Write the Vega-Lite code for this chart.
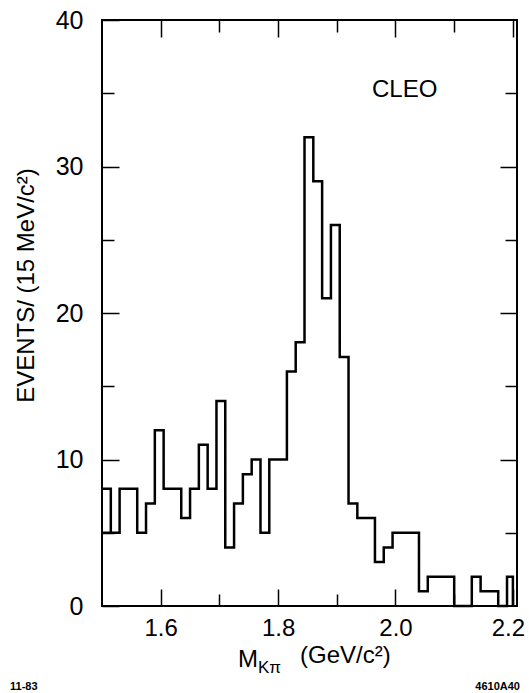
{
  "$schema": "https://vega.github.io/schema/vega-lite/v6.json",
  "autosize": "none",
  "width": 415,
  "height": 586,
  "padding": {"left": 102, "top": 20, "right": 12, "bottom": 87},
  "background": "white",
  "config": {
    "view": {"stroke": "black", "strokeWidth": 2},
    "font": "Liberation Sans",
    "axis": {"grid": false, "domain": false, "tickColor": "black", "tickWidth": 1.5, "labelColor": "black", "titleColor": "black", "labelFont": "Liberation Sans", "titleFont": "Liberation Sans", "labelFontWeight": "normal", "titleFontWeight": "normal"}
  },
  "datasets": {
    "hist": [
      {"x": 1.5, "count": 8}, {"x": 1.515, "count": 5}, {"x": 1.53, "count": 8}, {"x": 1.545, "count": 8},
      {"x": 1.56, "count": 5}, {"x": 1.575, "count": 7}, {"x": 1.59, "count": 12}, {"x": 1.605, "count": 8},
      {"x": 1.62, "count": 8}, {"x": 1.635, "count": 6}, {"x": 1.65, "count": 8}, {"x": 1.665, "count": 11},
      {"x": 1.68, "count": 8}, {"x": 1.695, "count": 14}, {"x": 1.71, "count": 4}, {"x": 1.725, "count": 7},
      {"x": 1.74, "count": 9}, {"x": 1.755, "count": 10}, {"x": 1.77, "count": 5}, {"x": 1.785, "count": 10},
      {"x": 1.8, "count": 10}, {"x": 1.815, "count": 16}, {"x": 1.83, "count": 18}, {"x": 1.845, "count": 32},
      {"x": 1.86, "count": 29}, {"x": 1.875, "count": 21}, {"x": 1.89, "count": 26}, {"x": 1.905, "count": 17},
      {"x": 1.92, "count": 7}, {"x": 1.935, "count": 6}, {"x": 1.95, "count": 6}, {"x": 1.965, "count": 3},
      {"x": 1.98, "count": 4}, {"x": 1.995, "count": 5}, {"x": 2.01, "count": 5}, {"x": 2.025, "count": 5},
      {"x": 2.04, "count": 1}, {"x": 2.055, "count": 2}, {"x": 2.07, "count": 2}, {"x": 2.085, "count": 2},
      {"x": 2.1, "count": 0}, {"x": 2.115, "count": 0}, {"x": 2.13, "count": 2}, {"x": 2.145, "count": 1},
      {"x": 2.16, "count": 1}, {"x": 2.175, "count": 0}, {"x": 2.19, "count": 2}, {"x": 2.2, "count": 0}
    ],
    "seg": [{"x": 1.5, "x2": 1.515, "y": 5}],
    "cleo": [{"x": 1.96, "y": 35.2, "label": "CLEO"}],
    "xt": [{"x": 1.7317, "y": -3.69, "label": "M"}, {"x": 1.8373, "y": -3.41, "label": "(GeV/c²)"}],
    "sub": [{"x": 1.7657, "y": -4.23, "label": "Kπ"}],
    "notes": [{"x": 1.3433, "y": -5.53, "label": "11-83"}],
    "notes2": [{"x": 2.212, "y": -5.53, "label": "4610A40"}]
  },
  "layer": [
    {
      "data": {"name": "hist"},
      "mark": {"type": "line", "interpolate": "step-after", "color": "black", "strokeWidth": 2.5, "clip": false},
      "encoding": {
        "x": {"field": "x", "type": "quantitative", "scale": {"domain": [1.5, 2.207], "nice": false, "zero": false},
              "axis": {"orient": "bottom", "values": [1.6, 1.8, 2.0, 2.2], "format": ".1f", "tickSize": -17, "labelPadding": 27, "labelFontSize": 24,
                       "labelOffset": {"condition": {"test": "datum.value > 2.15", "value": -5}, "value": 0}, "title": null}},
        "y": {"field": "count", "type": "quantitative", "scale": {"domain": [0, 40], "nice": false},
              "axis": {"orient": "left", "values": [0, 10, 20, 30, 40], "tickSize": -17, "labelPadding": 36, "labelFontSize": 25,
                       "title": "EVENTS/ (15 MeV/c²)", "titleFontSize": 24, "titleX": -64, "titleY": 265, "titleAngle": -90, "titleAlign": "center", "titleBaseline": "bottom"}}
      }
    },
    {
      "data": {"name": "seg"},
      "mark": {"type": "rule", "color": "black", "strokeWidth": 2.5},
      "encoding": {
        "x": {"field": "x", "type": "quantitative", "axis": {"orient": "bottom", "values": [1.7, 1.9, 2.1], "tickSize": -12, "labels": false, "title": null}},
        "x2": {"field": "x2"},
        "y": {"field": "y", "type": "quantitative", "axis": {"orient": "left", "values": [5, 15, 25, 35], "tickSize": -12, "labels": false, "title": null}}
      }
    },
    {
      "data": {"name": "cleo"},
      "mark": {"type": "text", "align": "left", "baseline": "middle", "fontSize": 24, "font": "Liberation Sans", "color": "black", "clip": false},
      "encoding": {
        "x": {"field": "x", "type": "quantitative", "axis": {"orient": "top", "values": [1.6, 1.8, 2.0, 2.2], "tickSize": -17, "labels": false, "title": null}},
        "y": {"field": "y", "type": "quantitative", "axis": {"orient": "right", "values": [10, 20, 30], "tickSize": -17, "labels": false, "title": null}},
        "text": {"field": "label"}
      }
    },
    {
      "data": {"name": "xt"},
      "mark": {"type": "text", "align": "left", "baseline": "middle", "fontSize": 24, "font": "Liberation Sans", "color": "black", "clip": false},
      "encoding": {
        "x": {"field": "x", "type": "quantitative", "axis": {"orient": "top", "values": [1.7, 1.9, 2.1], "tickSize": -12, "labels": false, "title": null}},
        "y": {"field": "y", "type": "quantitative", "axis": {"orient": "right", "values": [5, 15, 25, 35], "tickSize": -12, "labels": false, "title": null}},
        "text": {"field": "label"}
      }
    },
    {
      "data": {"name": "sub"},
      "mark": {"type": "text", "align": "left", "baseline": "middle", "fontSize": 17, "font": "Liberation Sans", "color": "black", "clip": false},
      "encoding": {
        "x": {"field": "x", "type": "quantitative", "axis": null},
        "y": {"field": "y", "type": "quantitative", "axis": null},
        "text": {"field": "label"}
      }
    },
    {
      "data": {"name": "notes"},
      "mark": {"type": "text", "align": "left", "baseline": "middle", "fontSize": 11, "fontWeight": "bold", "font": "Liberation Sans", "color": "black", "clip": false},
      "encoding": {
        "x": {"field": "x", "type": "quantitative", "axis": null},
        "y": {"field": "y", "type": "quantitative", "axis": null},
        "text": {"field": "label"}
      }
    },
    {
      "data": {"name": "notes2"},
      "mark": {"type": "text", "align": "right", "baseline": "middle", "fontSize": 11, "fontWeight": "bold", "font": "Liberation Sans", "color": "black", "clip": false},
      "encoding": {
        "x": {"field": "x", "type": "quantitative", "axis": null},
        "y": {"field": "y", "type": "quantitative", "axis": null},
        "text": {"field": "label"}
      }
    }
  ],
  "resolve": {"axis": {"x": "independent", "y": "independent"}}
}
